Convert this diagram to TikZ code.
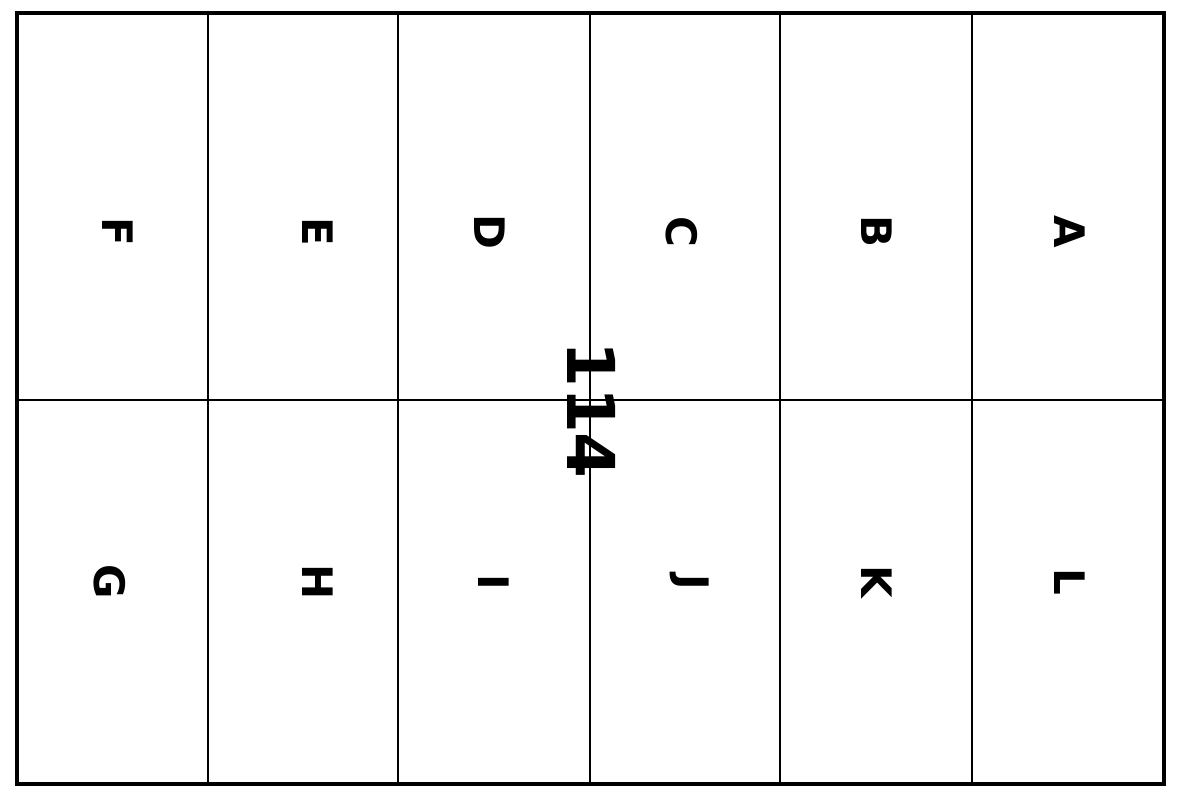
\documentclass[tikz,border=0pt]{standalone}
\usepackage{fontspec}
\setmainfont{DejaVu Sans}
\begin{document}
\begin{tikzpicture}[x=0.5pt,y=-0.5pt,
  frame/.style={line width=2.4pt,draw=black},
  grid/.style={line width=1.3pt,draw=black},
  lett/.style={rotate=-90,font=\fontsize{21}{21}\selectfont\bfseries,inner sep=0pt},
  num/.style={rotate=-90,font=\fontsize{33}{33}\selectfont\bfseries,inner sep=0pt}]
\useasboundingbox (0,0) rectangle (1180,802);
\fill[white] (0,0) rectangle (1180,802);
\coordinate (tl) at (17,13);
\coordinate (br) at (1164,784);
\foreach \x in {208,398,590,780,972} {\draw[grid] (\x,13) -- (\x,784);}
\draw[grid] (17,400) -- (1164,400);
\draw[frame] (tl) rectangle (br);
\node[lett] (F) at (118,232) {F};
\node[lett] (E) at (318,232) {E};
\node[lett] (D) at (490,232) {D};
\node[lett] (C) at (682,232) {C};
\node[lett] (B) at (877,232) {B};
\node[lett] (A) at (1070,232) {A};
\node[lett] (G) at (110,582) {G};
\node[lett] (H) at (318,582) {H};
\node[lett] (I) at (494,582) {I};
\node[lett] (J) at (690,582) {J};
\node[lett] (K) at (877,582) {K};
\node[lett] (L) at (1070,582) {L};
\node[num] (N) at (592,410) {114};
\end{tikzpicture}
\end{document}
